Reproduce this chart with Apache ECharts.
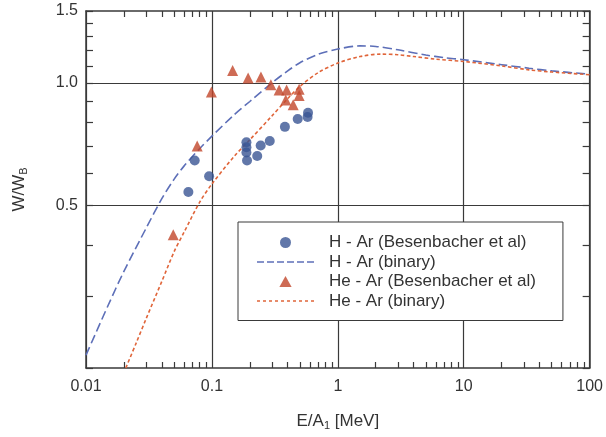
<!DOCTYPE html>
<html>
<head>
<meta charset="utf-8">
<script src="https://cdn.jsdelivr.net/npm/echarts@6/dist/echarts.min.js"></script>
<style>
html, body { margin: 0; padding: 0; background: #fff; }
#chart { width: 606px; height: 437px; }
</style>
</head>
<body>
<div id="chart"></div>
<script>
// E/A1 [MeV] and W/WB
var hArBinaryE = [0.01, 0.015, 0.02, 0.03, 0.04, 0.05, 0.06, 0.08, 0.1, 0.15, 0.2, 0.3, 0.4, 0.5, 0.7, 1, 1.5, 2, 3, 5, 7, 10, 20, 33, 50, 100]
var hArBinaryW = [0.215, 0.285, 0.345, 0.44, 0.52, 0.58, 0.625, 0.69, 0.74, 0.835, 0.9, 1.0, 1.07, 1.12, 1.175, 1.21, 1.232, 1.228, 1.205, 1.17, 1.153, 1.139, 1.108, 1.086, 1.07, 1.05]

var heArBinaryE = [0.0207, 0.025, 0.03, 0.04, 0.05, 0.06, 0.08, 0.1, 0.15, 0.2, 0.3, 0.4, 0.5, 0.7, 1, 1.5, 2.2, 3, 4, 6, 10, 20, 33, 50, 100]
var heArBinaryW = [0.2, 0.23, 0.264, 0.326, 0.385, 0.43, 0.51, 0.565, 0.66, 0.725, 0.83, 0.915, 0.98, 1.06, 1.118, 1.16, 1.176, 1.172, 1.16, 1.143, 1.128, 1.1, 1.076, 1.063, 1.047]

var hArExpE = [0.065, 0.073, 0.095, 0.188, 0.188, 0.188, 0.19, 0.229, 0.244, 0.288, 0.38, 0.48, 0.575, 0.58]
var hArExpW = [0.54, 0.645, 0.59, 0.715, 0.695, 0.675, 0.645, 0.662, 0.702, 0.72, 0.78, 0.815, 0.825, 0.845]

var heArExpE = [0.0493, 0.0764, 0.099, 0.146, 0.194, 0.245, 0.294, 0.342, 0.392, 0.493, 0.386, 0.493, 0.442]
var heArExpW = [0.424, 0.70, 0.95, 1.072, 1.027, 1.033, 0.989, 0.961, 0.961, 0.965, 0.908, 0.931, 0.884]

// axis ticks
var xLabels = ['0.01', '0.1', '1', '10', '100']
var xMinorTicks = [0.02, 0.03, 0.04, 0.05, 0.06, 0.07, 0.08, 0.09,
  0.2, 0.3, 0.4, 0.5, 0.6, 0.7, 0.8, 0.9,
  2, 3, 4, 5, 6, 7, 8, 9,
  20, 30, 40, 50, 60, 70, 80, 90]
var yTicks = [0.2, 0.3, 0.4, 0.5, 0.6, 0.7, 0.8, 0.9, 1.0, 1.1, 1.2, 1.3, 1.4, 1.5]
var yLabels = [0.5, 1.0, 1.5]
var yGrid = [0.5, 1.0]

var lg = function (v) { return Math.log10(v) }
var pts = function (xs, ys) {
  return xs.map(function (x, i) { return [lg(x), lg(ys[i])] })
}
// dashed legend icon as a path
var dashIcon = function (dash, gap, n) {
  var p = ''
  for (var i = 0; i < n; i++) {
    p += 'M' + (i * (dash + gap)) + ',0h' + dash + 'v1.6h-' + dash + 'z'
  }
  return 'path://' + p
}

var ink = '#3a3a3a'
var txt = '#333'
var font = 'Liberation Sans, Arial, Helvetica, sans-serif'
var blueDot = '#3a5593'
var blueLine = '#5d6fb8'
var redTri = '#c2462b'
var redLine = '#e0653a'

var xMin = -2, xMax = 2
var yMin = lg(0.2), yMax = lg(1.5)

var axisLine = { onZero: false, lineStyle: { color: ink, width: 1.5 } }
var tickStyle = { color: ink, width: 1.2 }

var myChart = echarts.init(document.getElementById('chart'))
var option = {
  backgroundColor: '#fff',
  animation: false,
  textStyle: { fontFamily: font },
  grid: { left: 86, right: 16, top: 11, bottom: 69 },
  xAxis: [{
    type: 'value', position: 'bottom', min: xMin, max: xMax, interval: 1,
    axisLine: axisLine,
    axisTick: { show: false },
    splitLine: { show: true, lineStyle: { color: ink, width: 1.2 } },
    axisLabel: {
      color: txt, fontSize: 16, margin: 11, fontFamily: font,
      formatter: function (v) { return xLabels[Math.round(v) + 2] }
    },
    name: '{t|E/A}{s|1}{t| [MeV]}',
    nameLocation: 'middle',
    nameGap: 43,
    nameTextStyle: {
      rich: {
        t: { fontSize: 17, color: txt, fontFamily: font, lineHeight: 20 },
        s: { fontSize: 11, color: txt, fontFamily: font, lineHeight: 12, verticalAlign: 'bottom' }
      }
    }
  }, {
    type: 'value', position: 'bottom', min: xMin, max: xMax,
    axisLine: { show: false, onZero: false },
    axisTick: { inside: true, length: 6, lineStyle: tickStyle, customValues: xMinorTicks.map(lg) },
    axisLabel: { show: false },
    splitLine: { show: false }
  }, {
    type: 'value', position: 'top', min: xMin, max: xMax,
    axisLine: axisLine,
    axisTick: { inside: true, length: 6, lineStyle: tickStyle, customValues: xMinorTicks.map(lg) },
    axisLabel: { show: false },
    splitLine: { show: false }
  }],
  yAxis: [{
    type: 'value', position: 'left', min: yMin, max: yMax,
    axisLine: axisLine,
    axisTick: { show: false, customValues: yGrid.map(lg) },
    splitLine: { show: true, lineStyle: { color: ink, width: 1.2 } },
    axisLabel: {
      color: txt, fontSize: 16, margin: 8, fontFamily: font,
      customValues: yLabels.map(lg),
      formatter: function (v) { return Math.pow(10, v).toFixed(1) }
    },
    name: '{t|W/W}{s|B}',
    nameLocation: 'middle',
    nameRotate: 90,
    nameGap: 57,
    nameTextStyle: {
      rich: {
        t: { fontSize: 17, color: txt, fontFamily: font, lineHeight: 20 },
        s: { fontSize: 11, color: txt, fontFamily: font, lineHeight: 12, verticalAlign: 'bottom' }
      }
    }
  }, {
    type: 'value', position: 'left', min: yMin, max: yMax,
    axisLine: { show: false, onZero: false },
    axisTick: { inside: true, length: 7, lineStyle: tickStyle, customValues: yTicks.map(lg) },
    axisLabel: { show: false },
    splitLine: { show: false }
  }, {
    type: 'value', position: 'right', min: yMin, max: yMax,
    axisLine: axisLine,
    axisTick: { inside: true, length: 7, lineStyle: tickStyle, customValues: yTicks.map(lg) },
    axisLabel: { show: false },
    splitLine: { show: false }
  }],
  legend: {
    orient: 'vertical',
    left: 238,
    top: 222,
    padding: [12, 27, 11, 19],
    itemWidth: 57,
    itemHeight: 11,
    itemGap: 2.5,
    borderColor: ink,
    borderWidth: 1,
    borderRadius: 0,
    backgroundColor: '#fff',
    itemStyle: { borderWidth: 0 },
    textStyle: { fontSize: 17, color: txt, fontFamily: font, padding: [0, 0, 0, 10] },
    data: [
      { name: 'H - Ar (Besenbacher et al)', icon: 'circle' },
      { name: 'H - Ar (binary)', icon: dashIcon(7, 3, 6) },
      { name: 'He - Ar (Besenbacher et al)', icon: 'path://M5,0L10,9L0,9Z' },
      { name: 'He - Ar (binary)', icon: dashIcon(3, 3, 10) }
    ]
  },
  series: [{
    name: 'H - Ar (Besenbacher et al)',
    type: 'scatter',
    data: pts(hArExpE, hArExpW),
    symbol: 'circle',
    symbolSize: 10,
    itemStyle: { color: blueDot },
    z: 5
  }, {
    name: 'H - Ar (binary)',
    type: 'line',
    data: pts(hArBinaryE, hArBinaryW),
    symbol: 'none',
    showSymbol: false,
    smooth: 0.3,
    lineStyle: { color: blueLine, width: 1.6, type: [9, 4] },
    itemStyle: { color: blueLine, borderWidth: 0 },
    z: 3
  }, {
    name: 'He - Ar (Besenbacher et al)',
    type: 'scatter',
    data: pts(heArExpE, heArExpW),
    symbol: 'triangle',
    symbolSize: 11,
    itemStyle: { color: redTri },
    z: 5
  }, {
    name: 'He - Ar (binary)',
    type: 'line',
    data: pts(heArBinaryE, heArBinaryW),
    symbol: 'none',
    showSymbol: false,
    smooth: 0.3,
    lineStyle: { color: redLine, width: 1.6, type: [3.5, 2.5] },
    itemStyle: { color: redLine, borderWidth: 0 },
    z: 3
  }]
}
myChart.setOption(option)
</script>
</body>
</html>
